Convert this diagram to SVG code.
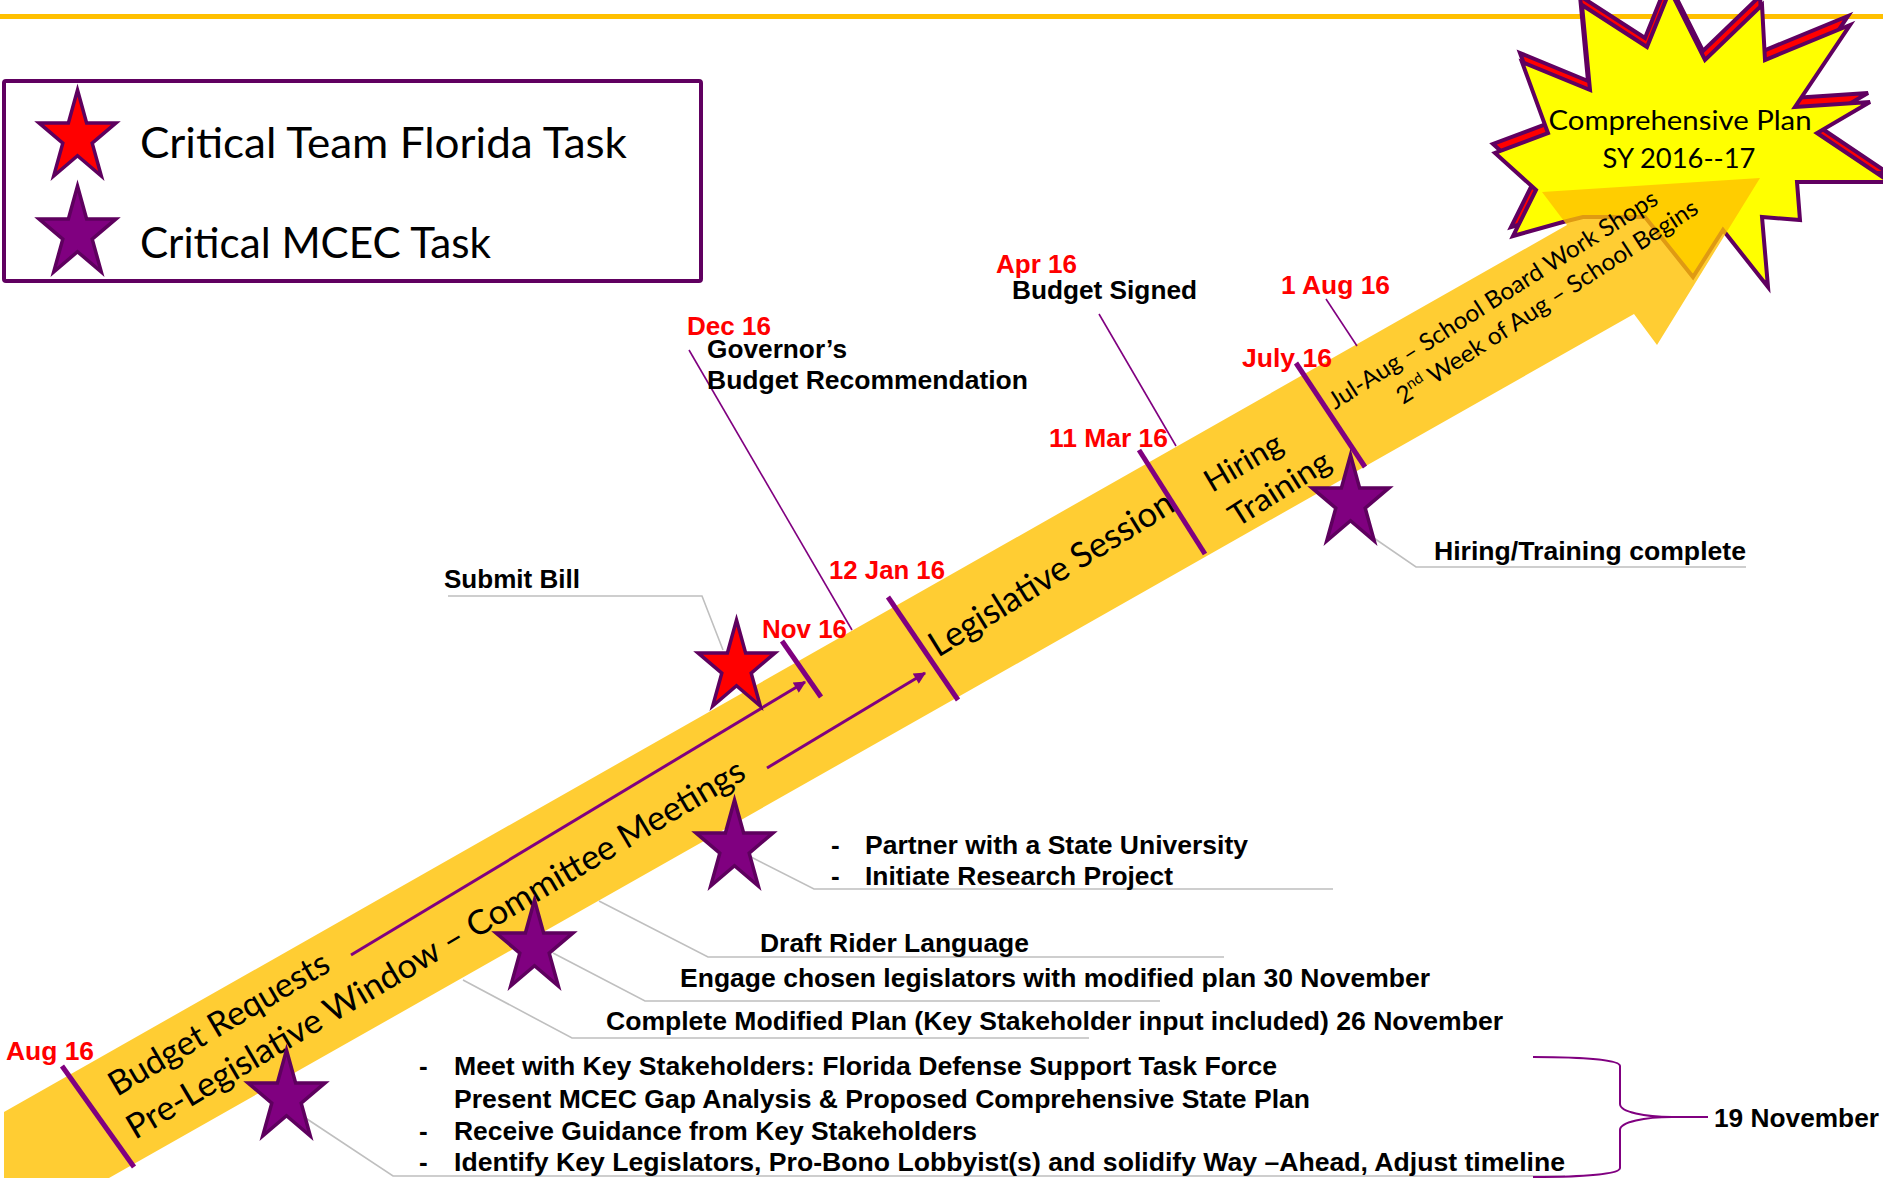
<svg xmlns="http://www.w3.org/2000/svg" xmlns:xlink="http://www.w3.org/1999/xlink" width="1883" height="1182" viewBox="0 0 1883 1182">
<defs>
<style>
.lbl{font-family:"Liberation Sans",Arial,sans-serif;font-weight:bold;font-size:26px;fill:#000}
.red{font-family:"Liberation Sans",Arial,sans-serif;font-weight:bold;font-size:26px;fill:#FF0000}
.cal{font-family:Lato,"Open Sans",sans-serif;fill:#000}
.tick{stroke:#800080;stroke-width:5;fill:none}
.thin{stroke:#800080;stroke-width:1.6;fill:none}
.call{stroke:#BFBFBF;stroke-width:1.6;fill:none}
.mstar{fill:#800080;stroke:#5E005E;stroke-width:3.5;stroke-linejoin:miter}
.rstar{fill:#FF0000;stroke:#5E005E;stroke-width:3.5;stroke-linejoin:miter}
.burst{stroke:#600060;stroke-width:4;stroke-linejoin:miter}
</style>
<path id="star" d="M38.5,0 L47.6,32.9 L77,32.9 L53.2,53.1 L62.3,86 L38.5,65.7 L14.7,86 L23.8,53.1 L0,32.9 L29.4,32.9 Z"/>
<marker id="ah" viewBox="0 0 10 10" refX="9" refY="5" markerWidth="16" markerHeight="12" markerUnits="userSpaceOnUse" orient="auto"><path d="M0,0 L10,5 L0,10 Z" fill="#800080"/></marker>
</defs>

<rect width="1883" height="1182" fill="#FFFFFF"/>
<line x1="0" y1="16.5" x2="1883" y2="16.5" stroke="#FFC000" stroke-width="5"/>

<g id="legend">
<rect x="4" y="81" width="697" height="200" rx="2" fill="none" stroke="#600060" stroke-width="4"/>
<use href="#star" x="39" y="90" class="rstar"/>
<use href="#star" x="39" y="186" class="mstar"/>
<text class="cal" x="140" y="158" font-size="42" textLength="487" lengthAdjust="spacingAndGlyphs">Critical Team Florida Task</text>
<text class="cal" x="140" y="258" font-size="42" textLength="351" lengthAdjust="spacingAndGlyphs">Critical MCEC Task</text>
</g>

<g id="comprehensive-plan">
<polygon class="burst" fill="#FF0000" transform="translate(-2,-9)" points="1670,-10 1705,60 1762,5 1765,60 1850,25 1795,107 1870,102 1817,133 1890,182 1797,182 1800,220 1762,217 1768,287 1723,230 1693,277 1645,217 1583,217 1563,222 1513,236 1536,190 1495,153 1548,133 1522,62 1590,90 1582,5 1647,47"/>
<polygon class="burst" fill="#FFFF00" points="1670,-10 1705,60 1762,5 1765,60 1850,25 1795,107 1870,102 1817,133 1890,182 1797,182 1800,220 1762,217 1768,287 1723,230 1693,277 1645,217 1583,217 1563,222 1513,236 1536,190 1495,153 1548,133 1522,62 1590,90 1582,5 1647,47"/>
<text class="cal" x="1680" y="130" font-size="27" text-anchor="middle" textLength="263" lengthAdjust="spacingAndGlyphs">Comprehensive Plan</text>
<text class="cal" x="1679" y="168" font-size="27" text-anchor="middle" textLength="153" lengthAdjust="spacingAndGlyphs">SY 2016--17</text>
</g>

<g id="timeline-arrow">
<polygon points="4,1112 1567,225 1542,192 1760,178 1657,345 1634,314 109,1178 4,1178" fill="#FFC000" fill-opacity="0.8"/>
<text class="cal" x="117" y="1097" font-size="34" transform="rotate(-30.5 117 1097)" textLength="250" lengthAdjust="spacingAndGlyphs">Budget Requests</text>
<text class="cal" x="135" y="1140" font-size="34" transform="rotate(-30.6 135 1140)" textLength="712" lengthAdjust="spacingAndGlyphs">Pre-Legislative Window – Committee Meetings</text>
<text class="cal" x="938" y="658" font-size="35" transform="rotate(-31.8 938 658)" textLength="281" lengthAdjust="spacingAndGlyphs">Legislative Session</text>
<text class="cal" x="1212" y="493" font-size="31" transform="rotate(-30.5 1212 493)" textLength="85" lengthAdjust="spacingAndGlyphs">Hiring</text>
<text class="cal" x="1237" y="528" font-size="31" transform="rotate(-32.4 1237 528)" textLength="114" lengthAdjust="spacingAndGlyphs">Training</text>
<text class="cal" x="1335" y="410" font-size="24" transform="rotate(-32.5 1335 410)" textLength="385" lengthAdjust="spacingAndGlyphs">Jul-Aug – School Board Work Shops</text>
<text class="cal" x="1403" y="405" font-size="24" transform="rotate(-33 1403 405)" textLength="354" lengthAdjust="spacingAndGlyphs">2<tspan font-size="15" baseline-shift="super">nd</tspan> Week of Aug – School Begins</text>
</g>

<g id="connectors">
<line class="tick" x1="62" y1="1066" x2="134" y2="1167"/>
<line class="tick" x1="782" y1="641" x2="821" y2="697"/>
<line class="tick" x1="888" y1="597" x2="958" y2="700"/>
<line class="tick" x1="1139" y1="450" x2="1205" y2="554"/>
<line class="tick" x1="1296" y1="363" x2="1365" y2="467"/>
<line stroke="#800080" stroke-width="3" x1="351" y1="955" x2="805" y2="682" marker-end="url(#ah)"/>
<line stroke="#800080" stroke-width="3" x1="767" y1="768" x2="925" y2="673" marker-end="url(#ah)"/>
<line class="thin" x1="689" y1="350" x2="852" y2="630"/>
<line class="thin" x1="1099" y1="314" x2="1176" y2="446"/>
<line class="thin" x1="1326" y1="299" x2="1357" y2="346"/>
<polyline class="call" points="448,596 702,596 723,650"/>
<polyline class="call" points="1352,523 1416,567 1746,567"/>
<polyline class="call" points="751,857 814,889 1333,889"/>
<polyline class="call" points="599,901 708,957 1224,957"/>
<polyline class="call" points="553,953 645,1001 1160,1001"/>
<polyline class="call" points="463,980 572,1038 1089,1038"/>
<polyline class="call" points="304,1117 393,1176 1565,1176"/>
<path d="M1533,1057 C1585,1057 1620,1060 1620,1066 L1620,1104 C1620,1112 1645,1117 1672,1117 L1708,1117 M1672,1117 C1645,1117 1620,1122 1620,1130 L1620,1168 C1620,1174 1585,1177 1533,1177" fill="none" stroke="#800080" stroke-width="2"/>
</g>

<g id="submit-bill">
<use href="#star" x="698" y="620" class="rstar"/>
<text class="lbl" x="444" y="588" textLength="136" lengthAdjust="spacingAndGlyphs">Submit Bill</text>
</g>
<g id="partner">
<use href="#star" x="696" y="800" class="mstar"/>
<text class="lbl" x="831" y="854">-</text>
<text class="lbl" x="865" y="854" textLength="383" lengthAdjust="spacingAndGlyphs">Partner with a State University</text>
<text class="lbl" x="831" y="885">-</text>
<text class="lbl" x="865" y="885" textLength="308" lengthAdjust="spacingAndGlyphs">Initiate Research Project</text>
</g>
<g id="draft-rider">
<text class="lbl" x="760" y="952" textLength="269" lengthAdjust="spacingAndGlyphs">Draft Rider Language</text>
</g>
<g id="engage">
<use href="#star" x="496" y="900" class="mstar"/>
<text class="lbl" x="680" y="987" textLength="750" lengthAdjust="spacingAndGlyphs">Engage chosen legislators with modified plan 30 November</text>
</g>
<g id="complete-plan">
<text class="lbl" x="606" y="1030" textLength="897" lengthAdjust="spacingAndGlyphs">Complete Modified Plan (Key Stakeholder input included) 26 November</text>
</g>
<g id="stakeholders">
<use href="#star" x="248" y="1050" class="mstar"/>
<text class="lbl" x="419" y="1075">-</text>
<text class="lbl" x="454" y="1075" textLength="823" lengthAdjust="spacingAndGlyphs">Meet with Key Stakeholders: Florida Defense Support Task Force</text>
<text class="lbl" x="454" y="1108" textLength="856" lengthAdjust="spacingAndGlyphs">Present MCEC Gap Analysis &amp; Proposed Comprehensive State Plan</text>
<text class="lbl" x="419" y="1140">-</text>
<text class="lbl" x="454" y="1140" textLength="523" lengthAdjust="spacingAndGlyphs">Receive Guidance from Key Stakeholders</text>
<text class="lbl" x="419" y="1171">-</text>
<text class="lbl" x="454" y="1171" textLength="1111" lengthAdjust="spacingAndGlyphs">Identify Key Legislators, Pro-Bono Lobbyist(s) and solidify Way –Ahead, Adjust timeline</text>
<text class="lbl" x="1714" y="1127" textLength="165" lengthAdjust="spacingAndGlyphs">19 November</text>
</g>
<g id="hiring-complete">
<use href="#star" x="1312" y="455" class="mstar"/>
<text class="lbl" x="1434" y="560" textLength="312" lengthAdjust="spacingAndGlyphs">Hiring/Training complete</text>
</g>
<g id="governor">
<text class="red" x="687" y="335" textLength="84" lengthAdjust="spacingAndGlyphs">Dec 16</text>
<text class="lbl" x="707" y="358" textLength="140" lengthAdjust="spacingAndGlyphs">Governor’s</text>
<text class="lbl" x="707" y="389" textLength="321" lengthAdjust="spacingAndGlyphs">Budget Recommendation</text>
</g>
<g id="budget-signed">
<text class="red" x="996" y="273" textLength="81" lengthAdjust="spacingAndGlyphs">Apr 16</text>
<text class="lbl" x="1012" y="299" textLength="185" lengthAdjust="spacingAndGlyphs">Budget Signed</text>
</g>
<g id="dates">
<text class="red" x="6" y="1060" textLength="88" lengthAdjust="spacingAndGlyphs">Aug 16</text>
<text class="red" x="762" y="638" textLength="85" lengthAdjust="spacingAndGlyphs">Nov 16</text>
<text class="red" x="829" y="579" textLength="116" lengthAdjust="spacingAndGlyphs">12 Jan 16</text>
<text class="red" x="1049" y="447" textLength="119" lengthAdjust="spacingAndGlyphs">11 Mar 16</text>
<text class="red" x="1281" y="294" textLength="109" lengthAdjust="spacingAndGlyphs">1 Aug 16</text>
<text class="red" x="1242" y="367" textLength="90" lengthAdjust="spacingAndGlyphs">July 16</text>
</g>
</svg>
